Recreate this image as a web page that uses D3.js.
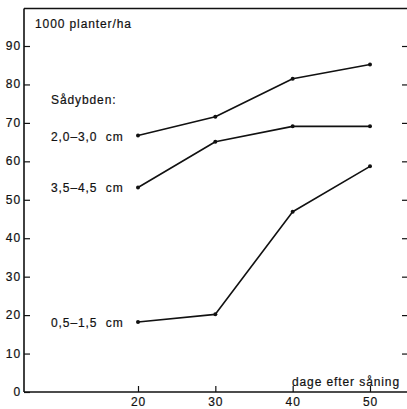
<!DOCTYPE html>
<html><head><meta charset="utf-8">
<script src="https://cdn.jsdelivr.net/npm/d3@7"></script>
<style>
body{margin:0;background:#fff;}
text{font-family:"Liberation Sans",Arial,sans-serif;fill:#111;stroke:#111;stroke-width:0.2px;white-space:pre;}
</style></head>
<body><svg id="c" width="407" height="409"></svg>
<script>
const days = [20, 30, 40, 50];
const seriesNames = ["2,0–3,0  cm", "3,5–4,5  cm", "0,5–1,5  cm"];
const depth20_30 = [66.7, 71.6, 81.5, 85.2];
const depth35_45 = [53.2, 65.1, 69.1, 69.1];
const depth05_15 = [18.2, 20.2, 46.9, 58.7];
const yTicks = [0, 10, 20, 30, 40, 50, 60, 70, 80, 90];
const xTicks = [20, 30, 40, 50];
const yTitle = "1000 planter/ha";
const xTitle = "dage efter såning";
const legendTitle = "Sådybden:";

(function () {
const series = [depth20_30, depth35_45, depth05_15];
const svg = d3.select("#c");
const mLeft = 24, mRight = 407, mTop = 8.5, mBottom = 392;
const x = d3.scaleLinear().domain([20, 50]).range([138, 370]);
const y = d3.scaleLinear().domain([0, 90]).range([mBottom, 46]);
const ink = "#111";
const fs = "12px", ls = "0.9px";

// frame lines
svg.append("line").attr("x1", mLeft).attr("x2", mLeft).attr("y1", mTop).attr("y2", mBottom)
  .attr("stroke", ink).attr("stroke-width", 1.6);
svg.append("line").attr("x1", mLeft).attr("x2", mRight).attr("y1", mBottom).attr("y2", mBottom)
  .attr("stroke", ink).attr("stroke-width", 1.6);
svg.append("line").attr("x1", mLeft).attr("x2", mRight).attr("y1", mTop).attr("y2", mTop)
  .attr("stroke", ink).attr("stroke-width", 1.4);

// left axis
const ya = svg.append("g").attr("transform", `translate(${mLeft},0)`)
  .call(d3.axisRight(y).tickValues(yTicks).tickSize(6).tickFormat(""));
ya.select(".domain").remove();
ya.selectAll("line").attr("stroke", ink).attr("stroke-width", 1.2);
svg.append("g").selectAll("text").data(yTicks).join("text")
  .attr("x", 21).attr("y", d => y(d) + 4).attr("text-anchor", "end")
  .style("font-size", fs).style("letter-spacing", ls).text(d => d);

// right ticks
const yr = svg.append("g").attr("transform", `translate(${mRight},0)`)
  .call(d3.axisLeft(y).tickValues(yTicks.filter(d => d > 0)).tickSize(5).tickFormat(""));
yr.select(".domain").remove();
yr.selectAll("line").attr("stroke", ink).attr("stroke-width", 1.2);

// bottom axis
const xa = svg.append("g").attr("transform", `translate(0,${mBottom})`)
  .call(d3.axisTop(x).tickValues(xTicks).tickSize(6).tickFormat(""));
xa.select(".domain").remove();
xa.selectAll("line").attr("stroke", ink).attr("stroke-width", 1.2);
svg.append("g").selectAll("text").data(xTicks).join("text")
  .attr("x", d => x(d) + 0.5).attr("y", 406).attr("text-anchor", "middle")
  .style("font-size", fs).style("letter-spacing", ls).text(d => d);

// lines
const line = d3.line().x((d, i) => x(days[i])).y(d => y(d));
series.forEach((s, k) => {
  svg.append("path").attr("d", line(s)).attr("fill", "none")
    .attr("stroke", ink).attr("stroke-width", 1.6).attr("stroke-linejoin", "round");
  svg.append("g").selectAll("circle").data(s).join("circle")
    .attr("cx", (d, i) => x(days[i])).attr("cy", d => y(d)).attr("r", 2).attr("fill", ink);
  svg.append("text").attr("x", 51).attr("y", y(s[0]) + 5)
    .style("font-size", fs).style("letter-spacing", ls).text(seriesNames[k]);
});

// titles
svg.append("text").attr("x", 35).attr("y", 28).style("font-size", fs).style("letter-spacing", ls).text(yTitle);
svg.append("text").attr("x", 51).attr("y", 104).style("font-size", fs).style("letter-spacing", ls).text(legendTitle);
svg.append("text").attr("x", 400).attr("y", 386).attr("text-anchor", "end")
  .style("font-size", fs).style("letter-spacing", ls).text(xTitle);
})();
</script></body></html>
